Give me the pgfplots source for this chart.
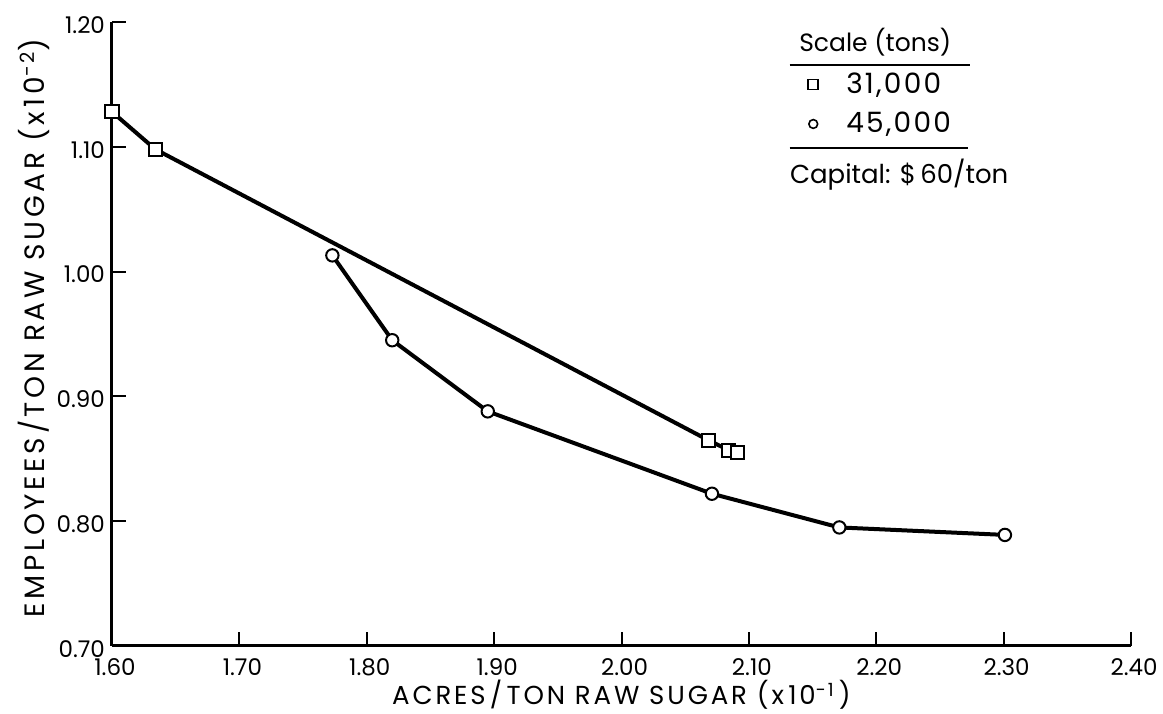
\documentclass[border=0pt]{standalone}
\usepackage{fontspec}
\setmainfont{Poppins}
\newfontfamily\xlabfont[LetterSpace=11]{Poppins}
\newfontfamily\ylabfont[LetterSpace=13]{Poppins}
\newfontfamily\keyfont[LetterSpace=8]{Poppins}
\usepackage{pgfplots}
\pgfplotsset{compat=1.18}

% Scale 31,000 t
\pgfplotstableread{
x      y
1.600  1.128
1.634  1.098
2.068  0.865
2.084  0.857
2.091  0.855
}\smallscale

% Scale 45,000 t
\pgfplotstableread{
x      y
1.773  1.013
1.820  0.945
1.895  0.888
2.071  0.822
2.171  0.795
2.301  0.789
}\largescale

\begin{document}
\begin{tikzpicture}
\begin{axis}[
  name=ax,
  scale only axis,
  width=509.5pt, height=312pt,
  xmin=1.6, xmax=2.4, ymin=0.7, ymax=1.2,
  clip=false,
  axis x line=bottom, axis y line=left,
  axis line style={-, line width=1.5pt},
  xtick={1.6,1.7,1.8,1.9,2.0,2.1,2.2,2.3,2.4},
  ytick={0.7,0.8,0.9,1.0,1.1,1.2},
  tick align=inside,
  major tick length=7pt,
  every tick/.style={black, line width=1pt},
  /pgf/number format/.cd, fixed, fixed zerofill, precision=2, assume math mode=true,
  /pgfplots/.cd,
  tick label style={font=\fontsize{11.5}{13}\selectfont},
  xticklabel style={inner sep=0.5pt, yshift=-5.6pt, xshift=1.5pt},
  yticklabel style={yshift=-1.5pt},
  xlabel={ACRES\,/\,TON RAW SUGAR (x\,10\textsuperscript{-1}\,)},
  ylabel={EMPLOYEES/TON RAW SUGAR (x\,10\textsuperscript{-2})},
  xlabel style={font=\fontsize{13}{15}\selectfont\xlabfont, inner sep=0.5pt,
    at={(axis description cs:0.5,0)}, anchor=base, yshift=-29.5pt},
  ylabel style={font=\fontsize{14}{16}\selectfont\ylabfont,
    at={(axis description cs:0,0.51)}, anchor=base, yshift=33.5pt},
  legend style={draw=none, fill=none, at={(axis description cs:0.677,0.926)},
    anchor=north west, font=\fontsize{14}{16}\selectfont\keyfont,
    nodes={inner sep=0pt}, row sep=8pt,
    /tikz/every odd column/.append style={column sep=14pt}},
  legend cell align=left,
]
\addplot[forget plot, black, line width=2pt, mark=square*,
  mark size=3.25pt, mark options={fill=white, line width=1pt, solid}]
  table[x=x, y=y] {\smallscale};
\addplot[forget plot, black, line width=2pt, mark=*,
  mark size=3.1pt, mark options={fill=white, line width=1pt, solid}]
  table[x=x, y=y] {\largescale};

\addlegendimage{only marks, black, mark=square, mark size=2.5pt, mark options={line width=0.8pt}}
\addlegendentry{31,000}
\addlegendimage{only marks, black, mark=o, mark size=2.2pt, mark options={line width=0.8pt}}
\addlegendentry{45,000}

\node[font=\fontsize{12.5}{15}\selectfont, anchor=center]
  at (axis description cs:0.749,0.968) {Scale (tons)};
\draw[line width=1pt] (axis description cs:0.665,0.931) -- (axis description cs:0.842,0.931);
\draw[line width=1pt] (axis description cs:0.665,0.798) -- (axis description cs:0.840,0.798);
\node[font=\fontsize{13}{15}\selectfont, anchor=west, inner sep=0pt]
  at (axis description cs:0.665,0.755) {Capital: \$\,60/ton};
\end{axis}
\pgfresetboundingbox
\path ([shift={(-56pt,-34pt)}]ax.south west) rectangle ([shift={(16pt,11pt)}]ax.north east);
\end{tikzpicture}
\end{document}
